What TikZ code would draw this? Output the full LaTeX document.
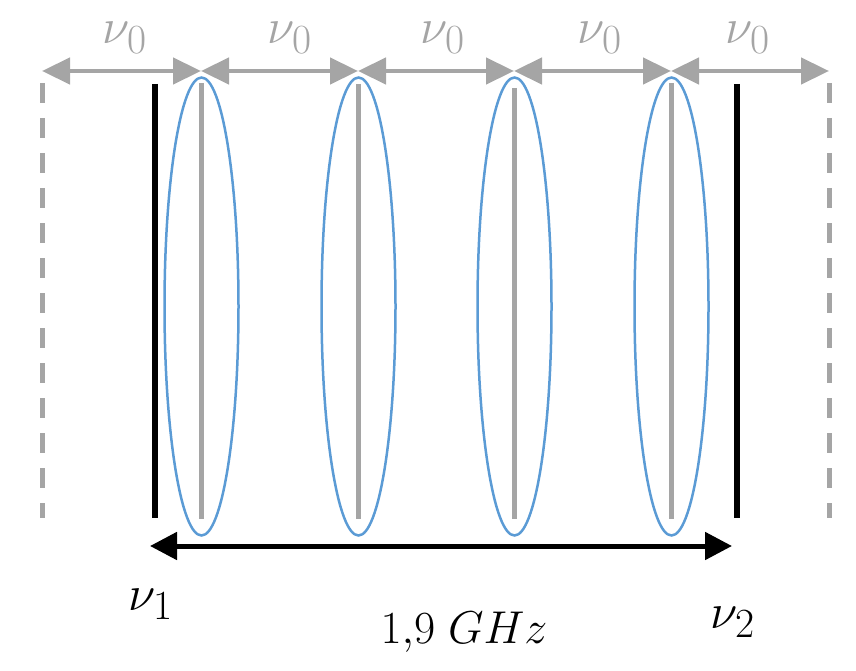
\documentclass[tikz,border=0pt]{standalone}
\usetikzlibrary{arrows.meta,shapes.geometric}
\definecolor{lgray}{HTML}{A5A5A5}
\definecolor{lblue}{HTML}{5B9BD5}
\newcommand{\bigmath}[2]{\scalebox{#1}{\Huge$#2$}}
\tikzset{
  dimarrow/.style={draw=lgray,line width=4.5pt,{Triangle[length=28pt,width=26pt]}-{Triangle[length=28pt,width=26pt]}},
  spanarrow/.style={draw=black,line width=5pt,{Triangle[length=27pt,width=27pt]}-{Triangle[length=27pt,width=27pt]}},
  bound/.style={draw=black,line width=6.5pt},
  guide/.style={draw=lgray,line width=5pt,dash pattern=on 20pt off 15pt},
  mode/.style={draw=lgray,line width=5pt},
  lobe/.style={draw=lblue,line width=2.5pt,ellipse,minimum width=74pt,minimum height=458pt,inner sep=0pt},
  lbl/.style={inner sep=0pt,anchor=base},
}
\begin{document}
\begin{tikzpicture}[x=1pt,y=-1pt]
\useasboundingbox (0,0) rectangle (856,671);
% dashed guides
\draw[guide] (42,83) -- (42,518);
\draw[guide] (829,83) -- (829,518);
% black boundaries
\draw[bound] (155,84) -- (155,518);
\draw[bound] (737,84) -- (737,518);
% modes
\foreach \i/\x/\t in {1/201/83,2/358/84,3/514/88,4/671/83}{
  \draw[mode] (\x,\t) -- (\x,519);
  \node[lobe] (e\i) at (\x+0.5,306.5) {};
}
% top arrows
\coordinate (a0) at (42,71);
\coordinate (a1) at (201,71);
\coordinate (a2) at (358,71);
\coordinate (a3) at (514,71);
\coordinate (a4) at (671,71);
\coordinate (a5) at (829,71);
\draw[dimarrow] (a0) -- (a1);
\draw[dimarrow] (a1) -- (a2);
\draw[dimarrow] (a2) -- (a3);
\draw[dimarrow] (a3) -- (a4);
\draw[dimarrow] (a4) -- (a5);
\foreach \i/\x in {1/125,2/290,3/443,4/600,5/748}{
  \node[lbl,text=lgray] (n\i) at (\x,44) {\bigmath{2.0}{\nu_0}};
}
% bottom span
\coordinate (b1) at (150,546);
\coordinate (b2) at (732,546);
\draw[spanarrow] (b1) -- (b2);
\node[lbl] (v1) at (151,610) {\bigmath{2.0}{\nu_1}};
\node[lbl] (v2) at (733,628) {\bigmath{2.0}{\nu_2}};
\node[lbl] (f) at (464,643) {\bigmath{1.85}{1{,}9\;GHz}};
\end{tikzpicture}
\end{document}
